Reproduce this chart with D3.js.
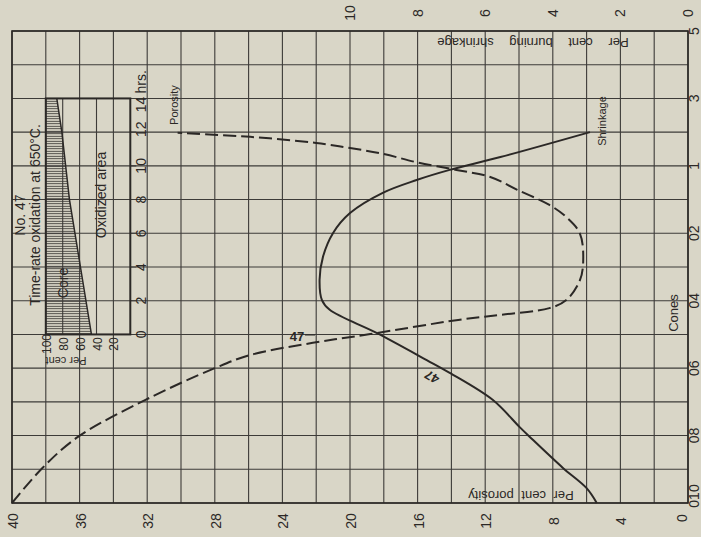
<!DOCTYPE html>
<html>
<head>
<meta charset="utf-8">
<script src="https://cdn.jsdelivr.net/npm/d3@7"></script>
<style>
  html, body { margin: 0; padding: 0; background: #d9d6c7; }
  svg text { font-family: "Liberation Sans", Arial, Helvetica, sans-serif; fill: #2b2826; }
</style>
</head>
<body>
<svg id="chart" width="701" height="537"></svg>
<script>
// ---------- data ----------
const porosityTicks = [40, 36, 32, 28, 24, 20, 16, 12, 8, 4, 0];
const shrinkTicks = [10, 8, 6, 4, 2, 0];
const coneNames = ["010","09","08","07","06","05","04","03","02","01","1","2","3","4","5"];
const coneLabelIdx = [0, 2, 4, 6, 8, 10, 12, 14];
const hourTicks = [0, 2, 4, 6, 8, 10, 12, 14];
const pctTicks = [100, 80, 60, 40, 20];

// porosity curve (dashed): cone position (0 = cone 010) and per cent porosity
const porosityCone = [0, 1.04, 1.96, 3.06, 4.0, 4.39, 4.75, 5.01, 5.43, 5.58, 5.78, 6.02, 6.6, 7.2, 8.0, 8.48, 8.84, 9.29, 9.67, 9.88, 10.1, 10.35, 10.53, 10.68, 10.86, 10.98];
const porosityVal  = [40, 38.2, 36.1, 32.1, 28.0, 25.9, 22.2, 18.8, 13.6, 11.1, 8.2, 7.2, 6.4, 6.2, 6.4, 7.2, 8.2, 10.1, 11.7, 13.7, 16.0, 18.0, 20.0, 22.0, 25.9, 30.2];

// shrinkage curve (solid): cone position and per cent burning shrinkage
const shrinkCone = [0, 0.44, 1.04, 1.96, 2.25, 3.06, 3.86, 4.24, 5.04, 5.73, 6.02, 6.62, 7.3, 8.01, 8.6, 9.2, 9.58, 9.88, 10.26, 11.0];
const shrinkVal  = [2.7, 3.0, 3.7, 4.68, 4.98, 5.78, 7.05, 7.73, 9.2, 10.6, 10.83, 10.9, 10.8, 10.5, 10.0, 9.03, 8.03, 7.05, 5.55, 2.9];

// inset: time-rate oxidation at 650°C (hours vs per cent)
const oxHours = [0, 4, 8, 12, 14];
const oxPct   = [46, 59, 72, 81, 87];

// ---------- scales ----------
const svg = d3.select("#chart");
const W = 701, H = 537;
const x = d3.scaleLinear().domain([40, 0]).range([12, 688]);       // porosity
const xs = d3.scaleLinear().domain([20, 0]).range([12, 688]);      // shrinkage
const y = d3.scaleLinear().domain([0, 14]).range([503, 31]);       // cones
const hy = d3.scaleLinear().domain([0, 14]).range([y(5), y(12)]);  // inset hours
const px = d3.scaleLinear().domain([100, 0]).range([x(38), x(33)]); // inset per cent

const ink = "#2b2826", grid = "#3d3b38";

svg.append("rect").attr("width", W).attr("height", H).attr("fill", "#d9d6c7");

// ---------- grid ----------
const gridG = svg.append("g");
gridG.selectAll("line.v").data(d3.range(0, 41, 2)).join("line")
  .attr("x1", d => x(d)).attr("x2", d => x(d))
  .attr("y1", y(0)).attr("y2", y(14))
  .attr("stroke", grid).attr("stroke-width", 1.1);
gridG.selectAll("line.h").data(d3.range(0, 15)).join("line")
  .attr("x1", x(40)).attr("x2", x(0))
  .attr("y1", d => y(d)).attr("y2", d => y(d))
  .attr("stroke", grid).attr("stroke-width", 1.1);
svg.append("rect").attr("x", x(40)).attr("y", y(14))
  .attr("width", x(0) - x(40)).attr("height", y(0) - y(14))
  .attr("fill", "none").attr("stroke", ink).attr("stroke-width", 1.6);

// ---------- tick labels ----------
function rotText(g, tx, ty, txt, size, anchor) {
  return g.append("text")
    .attr("transform", `translate(${tx},${ty}) rotate(-90)`)
    .attr("text-anchor", anchor || "middle")
    .attr("dominant-baseline", "central")
    .attr("font-size", size)
    .text(txt);
}
const lab = svg.append("g");
porosityTicks.forEach(v => rotText(lab, v === 0 ? x(v) - 6 : x(v) + 1, v === 0 ? 518 : 521, String(v), 14));
shrinkTicks.forEach(v => rotText(lab, xs(v), 13, String(v), 14));
coneLabelIdx.forEach(i => rotText(lab, 694, i === 0 ? y(i) - 7 : y(i), coneNames[i], 14));

// ---------- inset ----------
const inset = svg.append("g");
const defs = svg.append("defs");
const pat = defs.append("pattern").attr("id", "hatch")
  .attr("patternUnits", "userSpaceOnUse").attr("width", 6).attr("height", 2.5);
pat.append("line").attr("x1", 0).attr("x2", 6).attr("y1", 1.25).attr("y2", 1.25)
  .attr("stroke", "#3a3835").attr("stroke-width", 0.9);

inset.append("rect").attr("x", px(100)).attr("y", hy(14))
  .attr("width", px(0) - px(100)).attr("height", hy(0) - hy(14))
  .attr("fill", "#d9d6c7");
// inner grid
inset.selectAll("line.iv").data(pctTicks).join("line")
  .attr("x1", d => px(d)).attr("x2", d => px(d))
  .attr("y1", hy(0)).attr("y2", hy(14)).attr("stroke", grid).attr("stroke-width", 1.1);
inset.selectAll("line.ih").data(hourTicks).join("line")
  .attr("x1", px(100)).attr("x2", px(0) + 6)
  .attr("y1", d => hy(d)).attr("y2", d => hy(d)).attr("stroke", grid).attr("stroke-width", 1.1);

const oxData = oxHours.map((h, i) => ({ h, p: oxPct[i] }));
inset.append("path").datum(oxData)
  .attr("d", d3.area().y(d => hy(d.h)).x0(px(100)).x1(d => px(d.p)))
  .attr("fill", "url(#hatch)");
inset.append("path").datum(oxData)
  .attr("d", d3.line().y(d => hy(d.h)).x(d => px(d.p)))
  .attr("fill", "none").attr("stroke", ink).attr("stroke-width", 1.5);
inset.append("rect").attr("x", px(100)).attr("y", hy(14))
  .attr("width", px(0) - px(100)).attr("height", hy(0) - hy(14))
  .attr("fill", "none").attr("stroke", ink).attr("stroke-width", 2);

hourTicks.forEach(h => rotText(inset, 141, h === 14 ? hy(h) + 6 : (h === 12 ? hy(h) - 3 : hy(h)), String(h), 14));
rotText(inset, 141, hy(14) - 5, "hrs.", 14, "start");
pctTicks.forEach(p => rotText(inset, px(p) + 1, 344, String(p), 12));
inset.append("text").attr("transform", `translate(66,361) rotate(180)`)
  .attr("text-anchor", "middle").attr("dominant-baseline", "central")
  .attr("font-size", 11).text("Per cent");

rotText(inset, 20, 215, "No.  47", 14);
rotText(inset, 35, 215, "Time-rate oxidation at 650°C.", 14);
rotText(inset, 63, 283, "Core", 14);
rotText(inset, 101, 195, "Oxidized  area", 14);

// ---------- curves ----------
const porData = porosityCone.map((c, i) => ({ c, v: porosityVal[i] }));
const shrData = shrinkCone.map((c, i) => ({ c, v: shrinkVal[i] }));

svg.append("path").datum(porData)
  .attr("d", d3.line().x(d => x(d.v)).y(d => y(d.c)).curve(d3.curveCatmullRom))
  .attr("fill", "none").attr("stroke", ink).attr("stroke-width", 2)
  .attr("stroke-dasharray", "13,5");
svg.append("path").datum(shrData)
  .attr("d", d3.line().x(d => xs(d.v)).y(d => y(d.c)).curve(d3.curveCatmullRom))
  .attr("fill", "none").attr("stroke", ink).attr("stroke-width", 2);

// ---------- labels ----------
rotText(svg, 174, 105, "Porosity", 11);
rotText(svg, 602, 121, "Shrinkage", 11);
rotText(svg, 673, 313, "Cones", 13);
svg.append("text").attr("transform", "translate(521,495) rotate(180)")
  .attr("text-anchor", "middle").attr("dominant-baseline", "central")
  .attr("font-size", 13).attr("word-spacing", 4).text("Per cent porosity");
svg.append("text").attr("transform", "translate(533,42) rotate(180)")
  .attr("text-anchor", "middle").attr("dominant-baseline", "central")
  .attr("font-size", 13).attr("word-spacing", 12).text("Per cent burning shrinkage");
svg.append("text").attr("x", 297).attr("y", 336)
  .attr("text-anchor", "middle").attr("dominant-baseline", "central")
  .attr("font-size", 13).attr("font-weight", "bold").text("47");
svg.append("line").attr("x1", 305).attr("x2", 315).attr("y1", 335).attr("y2", 335)
  .attr("stroke", ink).attr("stroke-width", 1);
svg.append("text").attr("transform", "translate(432,377) rotate(211)")
  .attr("text-anchor", "middle").attr("dominant-baseline", "central")
  .attr("font-size", 13).attr("font-weight", "bold").text("47");
</script>
</body>
</html>
